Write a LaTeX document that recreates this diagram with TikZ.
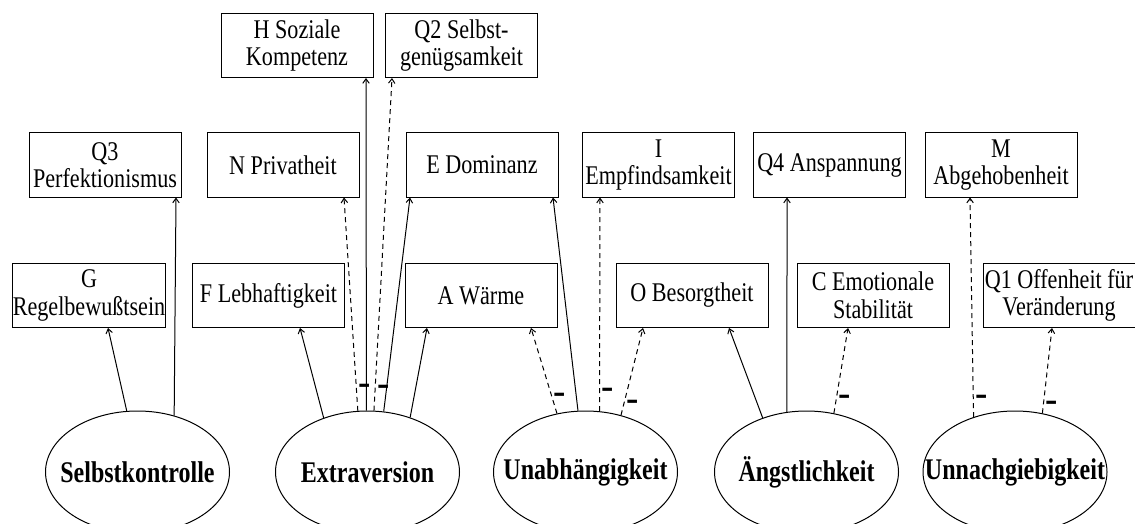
\documentclass[tikz,border=0pt]{standalone}
\usepackage{fontspec}
\setmainfont{Liberation Serif}[FakeStretch=0.82]
\newfontfamily\factorfont{Liberation Serif}[FakeStretch=0.80]
\newfontfamily\signfont{Liberation Serif}
\usetikzlibrary{arrows.meta,shapes.geometric}

\tikzset{
  trait/.style={draw, line width=1pt, minimum width=152pt, minimum height=64pt,
    inner sep=0pt, align=center, font=\fontsize{27}{27.5}\selectfont},
  factor/.style={draw, ellipse, line width=1pt, minimum width=184pt,
    minimum height=122pt, inner sep=0pt},
  factorname/.style={inner sep=0pt, font=\factorfont\bfseries\fontsize{30}{30}\selectfont},
  loading/.style={line width=1pt, -{Straight Barb[length=4.5pt,width=6.5pt]}},
  negloading/.style={loading, dash pattern=on 5pt off 4pt},
  negsign/.style={anchor=base west, inner sep=0pt, xshift=1.5pt, yshift=-8.4pt,
    font=\signfont\bfseries\fontsize{37}{37}\selectfont}
}

\begin{document}
\begin{tikzpicture}[x=1pt,y=-1pt]
\useasboundingbox (0,0) rectangle (1135,524);
\fill[white] (0,0) rectangle (1135,524);
\clip (0,0) rectangle (1135,524);

% primary factors, top row
\node[trait] (H)  at (297,45.5)   {H Soziale\\Kompetenz};
\node[trait] (Q2) at (461.5,45.5) {Q2 Selbst-\\genügsamkeit};

% primary factors, middle row
\node[trait] (Q3) at (105,165)    {Q3\\Perfektionismus};
\node[trait] (N)  at (283,165)    {N Privatheit};
\node[trait] (E)  at (482,165)    {E Dominanz};
\node[trait] (I)  at (658.5,165)  {I\\Empfindsamkeit};
\node[trait] (Q4) at (829.5,165)  {Q4 Anspannung};
\node[trait] (M)  at (1001,165)   {M\\Abgehobenheit};

% primary factors, lower row
\node[trait] (G)  at (89,295.5)   {G\\Regelbewußtsein};
\node[trait] (F)  at (268.5,295.5){F Lebhaftigkeit};
\node[trait] (A)  at (481,295.5)  {A Wärme};
\node[trait] (O)  at (692,295.5)  {O Besorgtheit};
\node[trait] (C)  at (873,295.5)  {C Emotionale\\Stabilität};
\node[trait] (Q1) at (1059,295.5) {Q1 Offenheit für\\Veränderung};

% global factors
\node[factor, label={[factorname]center:Selbstkontrolle}]  (SK) at (137.5,472) {};
\node[factor, label={[factorname]center:Extraversion}]     (EX) at (367.5,472) {};
\node[factor, label={[factorname]center:Unabhängigkeit}]   (UN) at (585.5,472) {};
\node[factor, label={[factorname]center:Ängstlichkeit}]    (AN) at (806.5,472) {};
\node[factor, label={[factorname]center:Unnachgiebigkeit}] (UG) at (1015,472)  {};

% Selbstkontrolle
\draw[loading] (SK.100.8) -- ([xshift=19pt]G.south);
\draw[loading] (SK.57.8)  -- ([xshift=71pt]Q3.south);

% Extraversion
\draw[loading]    (EX.129)  -- ([xshift=31.5pt]F.south);
\draw[negloading] (EX.99.8) -- node[negsign,pos=0.116]{-} ([xshift=61pt]N.south);
\draw[loading]    (EX.91.4) -- ([xshift=69pt]H.south);
\draw[negloading] (EX.84.8) -- node[negsign,pos=0.072]{-} ([xshift=-69.5pt]Q2.south);
\draw[loading]    (EX.75.6) -- ([xshift=-72pt]E.south);
\draw[loading]    (EX.52.7) -- ([xshift=-54pt]A.south);

% Unabhängigkeit
\draw[negloading] (UN.116.2) -- node[negsign,pos=0.22]{-}  ([xshift=50pt]A.south);
\draw[loading]    (UN.97)    -- ([xshift=71pt]E.south);
\draw[negloading] (UN.77.4)  -- node[negsign,pos=0.10]{-}  ([xshift=-58.5pt]I.south);
\draw[negloading] (UN.58.6)  -- node[negsign,pos=0.148]{-} ([xshift=-49pt]O.south);

% Ängstlichkeit
\draw[loading]    (AN.129)   -- ([xshift=37pt]O.south);
\draw[loading]    (AN.108.1) -- ([xshift=-42.5pt]Q4.south);
\draw[negloading] (AN.65.6)  -- node[negsign,pos=0.184]{-} ([xshift=-25pt]C.south);

% Unnachgiebigkeit
\draw[negloading] (UG.127.7) -- node[negsign,pos=0.091]{-} ([xshift=-31pt]M.south);
\draw[negloading] (UG.65.2)  -- node[negsign,pos=0.116]{-} ([xshift=-7pt]Q1.south);
\end{tikzpicture}
\end{document}
